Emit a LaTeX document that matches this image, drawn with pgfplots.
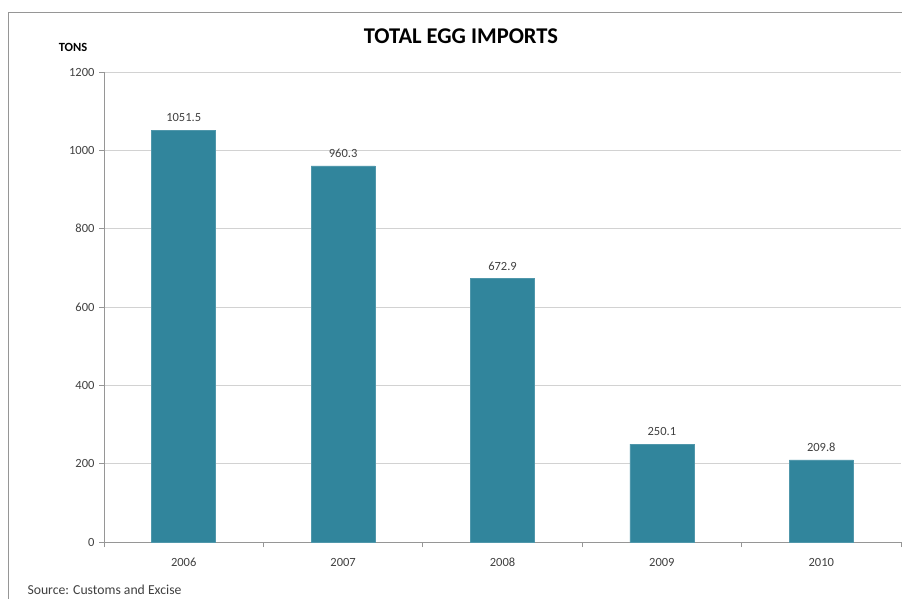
\documentclass[border=0pt]{standalone}
\usepackage{pgfplots}
\pgfplotsset{compat=1.18}
\usepackage{fontspec}
\setmainfont{Carlito}
\definecolor{barc}{RGB}{49,133,156}
\definecolor{axc}{RGB}{150,150,150}
\definecolor{gridc}{RGB}{210,210,210}
\definecolor{txt}{RGB}{64,64,64}
\begin{document}
\begin{tikzpicture}[x=1pt,y=1pt]
\useasboundingbox (0,0) rectangle (902,598);
\clip (0,0) rectangle (902,598);
\draw[color=axc,line width=1pt] (8.5,-20) -- (8.5,585.5) -- (920,585.5);
\begin{axis}[
  at={(104pt,56pt)}, anchor=south west,
  scale only axis, width=797pt, height=470pt,
  xmin=-0.5, xmax=4.5, ymin=0, ymax=1200,
  axis x line*=bottom, axis y line*=left,
  axis line style={color=axc, line width=0.8pt},
  ytick={0,200,...,1200},
  ymajorgrids, major grid style={color=gridc, line width=0.8pt},
  xtick={0,1,2,3,4},
  xticklabels={2006,2007,2008,2009,2010},
  major x tick style={draw=none},
  extra x ticks={-0.5,0.5,1.5,2.5,3.5,4.5},
  extra x tick labels={},
  extra x tick style={major tick length=5pt, tick align=outside, major x tick style={draw=axc, line width=0.8pt}, grid=none},
  y tick style={color=axc, line width=0.8pt},
  major tick length=5pt, tick align=outside,
  ticklabel style={font=\fontsize{12.5}{14}\selectfont, text=txt},
  xticklabel style={text height=8pt, text depth=0pt, yshift=-7.5pt},
  yticklabel style={xshift=-1pt},
  /pgf/number format/assume math mode=true,
  /pgf/number format/set thousands separator={},
  ybar, bar width=64pt,
  nodes near coords,
  point meta=explicit symbolic,
  nodes near coords style={font=\fontsize{12.5}{14}\selectfont, text=txt, yshift=4.5pt},
]
\addplot[fill=barc, draw=barc!85!white, line width=0.5pt] coordinates {
  (0,1051.5) [1051.5]
  (1,960.3) [960.3]
  (2,672.9) [672.9]
  (3,250.1) [250.1]
  (4,209.8) [209.8]
};
\end{axis}
\node[font=\bfseries\fontsize{22.5}{26}\selectfont] at (461,562) {TOTAL EGG IMPORTS};
\node[font=\bfseries\fontsize{12.5}{14}\selectfont] at (73,551) {TONS};
\node[anchor=west, font=\fontsize{13.7}{16}\selectfont, text=txt] at (24,8) {Source: Customs and Excise};
\end{tikzpicture}
\end{document}
